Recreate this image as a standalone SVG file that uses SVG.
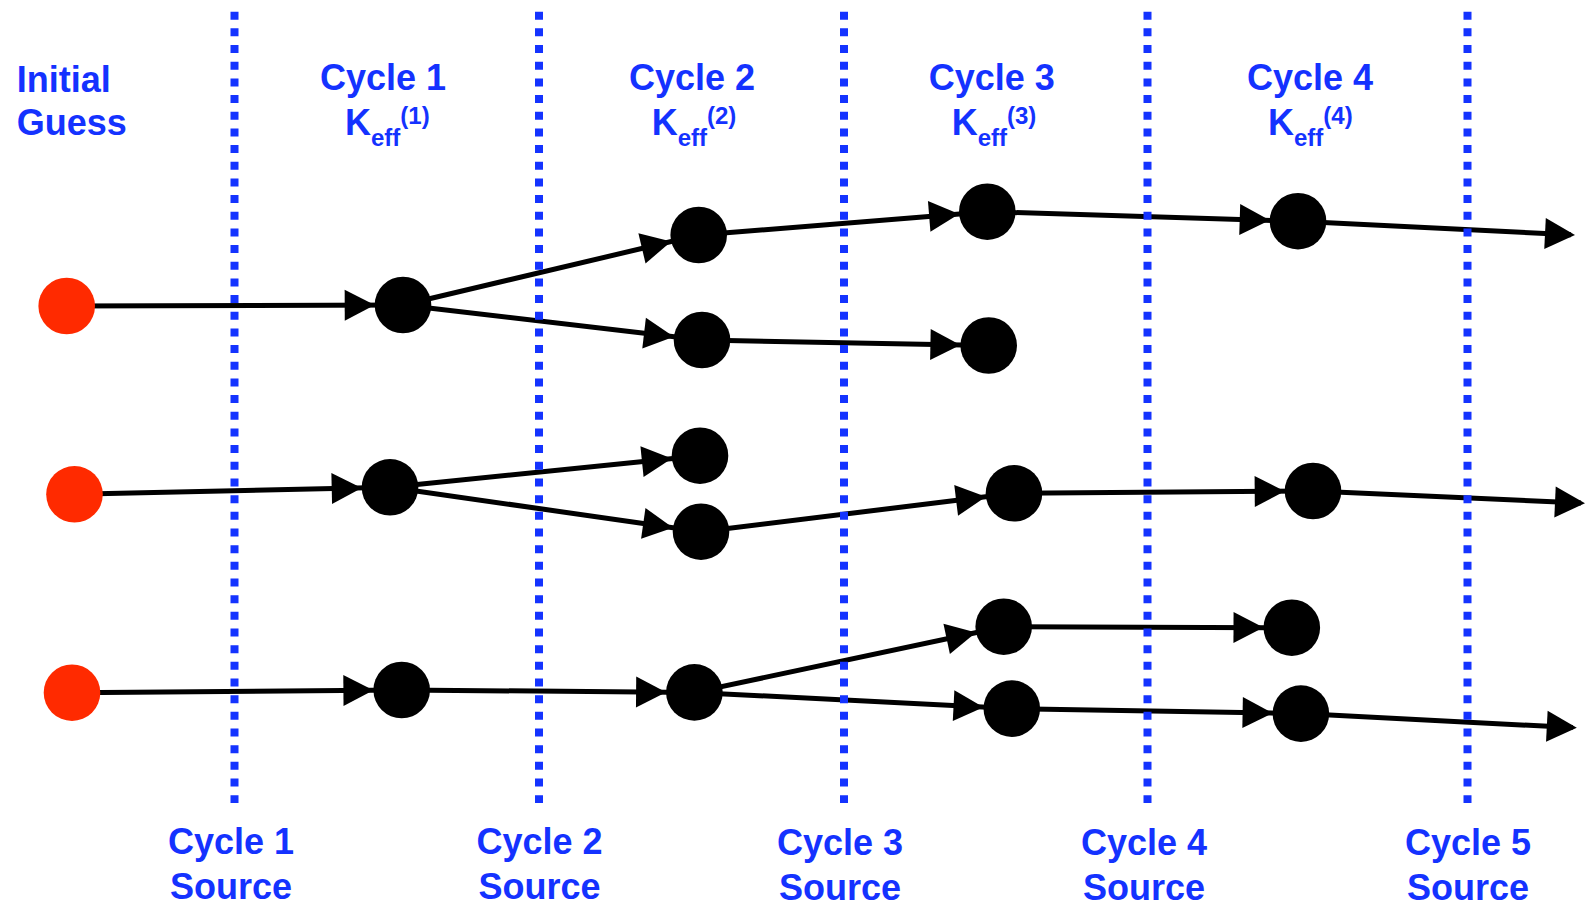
<svg xmlns="http://www.w3.org/2000/svg" width="1585" height="905" viewBox="0 0 1585 905">
<style>
  .lbl { font-family: "Liberation Sans", Arial, sans-serif; font-weight: bold; font-size: 36px; fill: #1432FF; }
  .sm { font-size: 24px; }
  .mid { text-anchor: middle; }
  .conn { stroke: #000; stroke-width: 5; fill: none; }
  .div { stroke: #1433FF; stroke-width: 8; stroke-dasharray: 8 8.67; fill: none; }
  .node { fill: #000; }
  .seed { fill: #FF2A00; }
</style>
<defs>
  <marker id="arrC" markerUnits="userSpaceOnUse" markerWidth="60" markerHeight="31" refX="58.3" refY="15.5" orient="auto" overflow="visible">
    <path d="M0,0 L30,15.5 L0,31 Z" fill="#000"/>
  </marker>
  <marker id="arrE" markerUnits="userSpaceOnUse" markerWidth="30" markerHeight="31" refX="26" refY="15.5" orient="auto" overflow="visible">
    <path d="M0,0 L30,15.5 L0,31 Z" fill="#000"/>
  </marker>
</defs>
<rect width="1585" height="905" fill="#fff"/>

<g id="connectors">
  <line class="conn" x1="66.7" y1="306" x2="403" y2="305" marker-end="url(#arrC)"/>
  <line class="conn" x1="403" y1="305" x2="698.7" y2="235" marker-end="url(#arrC)"/>
  <line class="conn" x1="403" y1="305" x2="702" y2="340" marker-end="url(#arrC)"/>
  <line class="conn" x1="698.7" y1="235" x2="987.3" y2="211.7" marker-end="url(#arrC)"/>
  <line class="conn" x1="702" y1="340" x2="988.7" y2="345.5" marker-end="url(#arrC)"/>
  <line class="conn" x1="987.3" y1="211.7" x2="1298" y2="221.2" marker-end="url(#arrC)"/>
  <line class="conn" x1="1298" y1="221.2" x2="1571" y2="234.8" marker-end="url(#arrE)"/>

  <line class="conn" x1="74.5" y1="494.3" x2="390" y2="487.3" marker-end="url(#arrC)"/>
  <line class="conn" x1="390" y1="487.3" x2="700" y2="455.7" marker-end="url(#arrC)"/>
  <line class="conn" x1="390" y1="487.3" x2="701" y2="531.7" marker-end="url(#arrC)"/>
  <line class="conn" x1="701" y1="531.7" x2="1014" y2="493.3" marker-end="url(#arrC)"/>
  <line class="conn" x1="1014" y1="493.3" x2="1313" y2="491" marker-end="url(#arrC)"/>
  <line class="conn" x1="1313" y1="491" x2="1581" y2="503.1" marker-end="url(#arrE)"/>

  <line class="conn" x1="72" y1="692.7" x2="401.7" y2="690" marker-end="url(#arrC)"/>
  <line class="conn" x1="401.7" y1="690" x2="694.4" y2="692.4" marker-end="url(#arrC)"/>
  <line class="conn" x1="694.4" y1="692.4" x2="1003.7" y2="626.7" marker-end="url(#arrC)"/>
  <line class="conn" x1="694.4" y1="692.4" x2="1011.8" y2="708.6" marker-end="url(#arrC)"/>
  <line class="conn" x1="1003.7" y1="626.7" x2="1291.8" y2="627.7" marker-end="url(#arrC)"/>
  <line class="conn" x1="1011.8" y1="708.6" x2="1300.9" y2="713.6" marker-end="url(#arrC)"/>
  <line class="conn" x1="1300.9" y1="713.6" x2="1572.8" y2="727.6" marker-end="url(#arrE)"/>
</g>

<g id="dividers">
  <line class="div" x1="234.5" y1="11.7" x2="234.5" y2="803"/>
  <line class="div" x1="539" y1="11.7" x2="539" y2="803"/>
  <line class="div" x1="844" y1="11.7" x2="844" y2="803"/>
  <line class="div" x1="1147.5" y1="11.7" x2="1147.5" y2="803"/>
  <line class="div" x1="1467.5" y1="11.7" x2="1467.5" y2="803"/>
</g>

<g id="seed1"><circle class="seed" cx="66.7" cy="306" r="28.3"/></g>
<g id="seed2"><circle class="seed" cx="74.5" cy="494.3" r="28.3"/></g>
<g id="seed3"><circle class="seed" cx="72" cy="692.7" r="28.3"/></g>

<g id="a1"><circle class="node" cx="403" cy="305" r="28.3"/></g>
<g id="b1"><circle class="node" cx="698.7" cy="235" r="28.3"/></g>
<g id="b2"><circle class="node" cx="702" cy="340" r="28.3"/></g>
<g id="c1"><circle class="node" cx="987.3" cy="211.7" r="28.3"/></g>
<g id="c2"><circle class="node" cx="988.7" cy="345.5" r="28.3"/></g>
<g id="d1"><circle class="node" cx="1298" cy="221.2" r="28.3"/></g>

<g id="a2"><circle class="node" cx="390" cy="487.3" r="28.3"/></g>
<g id="b3"><circle class="node" cx="700" cy="455.7" r="28.3"/></g>
<g id="b4"><circle class="node" cx="701" cy="531.7" r="28.3"/></g>
<g id="c3"><circle class="node" cx="1014" cy="493.3" r="28.3"/></g>
<g id="d2"><circle class="node" cx="1313" cy="491" r="28.3"/></g>

<g id="a3"><circle class="node" cx="401.7" cy="690" r="28.3"/></g>
<g id="b5"><circle class="node" cx="694.4" cy="692.4" r="28.3"/></g>
<g id="c4"><circle class="node" cx="1003.7" cy="626.7" r="28.3"/></g>
<g id="c5"><circle class="node" cx="1011.8" cy="708.6" r="28.3"/></g>
<g id="d3"><circle class="node" cx="1291.8" cy="627.7" r="28.3"/></g>
<g id="d4"><circle class="node" cx="1300.9" cy="713.6" r="28.3"/></g>

<g id="top-labels">
  <text class="lbl" x="16.7" y="91.5">Initial</text>
  <text class="lbl" x="16.7" y="135">Guess</text>

  <text class="lbl mid" x="383" y="90">Cycle 1</text>
  <text class="lbl" x="345" y="135">K<tspan class="sm" y="146">eff</tspan><tspan class="sm" y="124">(1)</tspan></text>

  <text class="lbl mid" x="692" y="90">Cycle 2</text>
  <text class="lbl" x="651.7" y="135">K<tspan class="sm" y="146">eff</tspan><tspan class="sm" y="124">(2)</tspan></text>

  <text class="lbl mid" x="991.7" y="90">Cycle 3</text>
  <text class="lbl" x="951.7" y="135">K<tspan class="sm" y="146">eff</tspan><tspan class="sm" y="124">(3)</tspan></text>

  <text class="lbl mid" x="1310" y="90">Cycle 4</text>
  <text class="lbl" x="1268" y="135">K<tspan class="sm" y="146">eff</tspan><tspan class="sm" y="124">(4)</tspan></text>
</g>

<g id="bottom-labels">
  <text class="lbl mid" x="231" y="854">Cycle 1</text>
  <text class="lbl mid" x="231" y="899">Source</text>
  <text class="lbl mid" x="539.5" y="854">Cycle 2</text>
  <text class="lbl mid" x="539.5" y="899">Source</text>
  <text class="lbl mid" x="840" y="855">Cycle 3</text>
  <text class="lbl mid" x="840" y="900">Source</text>
  <text class="lbl mid" x="1144" y="855">Cycle 4</text>
  <text class="lbl mid" x="1144" y="900">Source</text>
  <text class="lbl mid" x="1468" y="855">Cycle 5</text>
  <text class="lbl mid" x="1468" y="900">Source</text>
</g>
</svg>
